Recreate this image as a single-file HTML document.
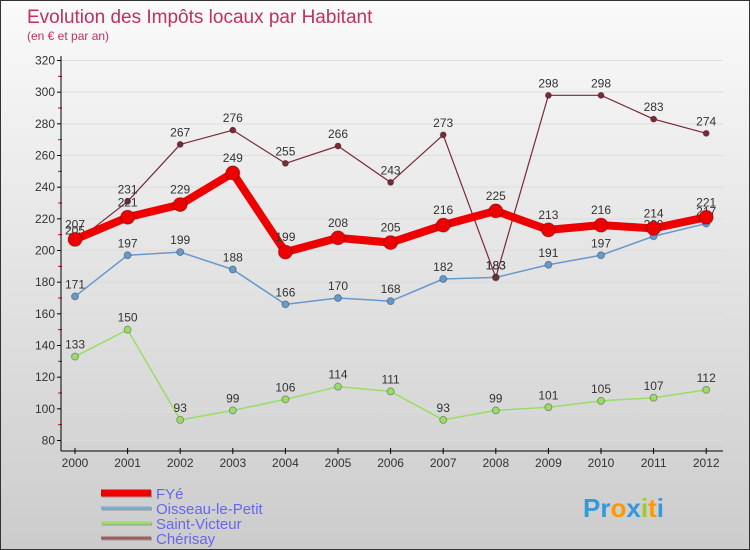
<!DOCTYPE html>
<html><head><meta charset="utf-8"><style>
body{margin:0}
#c{width:748px;height:548px;border:1px solid #333;background:linear-gradient(#fafafa,#cccccc);position:relative;overflow:hidden;font-family:"Liberation Sans","DejaVu Sans",sans-serif}
</style></head><body>
<div id="c">
<svg id="s" width="748" height="548"></svg>
</div>
<script>
const years=["2000","2001","2002","2003","2004","2005","2006","2007","2008","2009","2010","2011","2012"];
const yTicks=[80,100,120,140,160,180,200,220,240,260,280,300,320];
const cherisay=[205,231,267,276,255,266,243,273,183,298,298,283,274];
const fye=[207,221,229,249,199,208,205,216,225,213,216,214,221];
const oisseau=[171,197,199,188,166,170,168,182,183,191,197,209,217];
const victeur=[133,150,93,99,106,114,111,93,99,101,105,107,112];
const NS="http://www.w3.org/2000/svg";
const s=document.getElementById('s');
function el(t,a,p){const e=document.createElementNS(NS,t);for(const k in a)e.setAttribute(k,a[k]);(p||s).appendChild(e);return e;}
const X=i=>74+i*52.6;
const Y=v=>439.5-(v-80)*380/240;
let t=el('text',{x:26,y:22,'font-size':19,fill:'#c03060'});t.textContent='Evolution des Impôts locaux par Habitant';

t=el('text',{x:26,y:39,'font-size':12,fill:'#c03060'});t.textContent='(en € et par an)';

yTicks.forEach(v=>{
 const g=el('line',{x1:60,x2:722,y1:Y(v),y2:Y(v),stroke:'#ddd','stroke-width':1});
 
 el('line',{x1:56,x2:60,y1:Y(v),y2:Y(v),stroke:'#000'});
 if(v<320) el('line',{x1:57,x2:61,y1:Y(v+10),y2:Y(v+10),stroke:'#e00'});
 const tx=el('text',{x:54,y:Y(v)+4,'font-size':12,fill:'#333','text-anchor':'end'});tx.textContent=v;
 
});
let ax=el('line',{x1:60,x2:60,y1:55,y2:450,stroke:'#000'});

ax=el('line',{x1:60,x2:722,y1:450,y2:450,stroke:'#000'});

years.forEach((y,i)=>{
 el('line',{x1:X(i),x2:X(i),y1:447,y2:453,stroke:'#000'});
 const tx=el('text',{x:X(i),y:466,'font-size':12,fill:'#333','text-anchor':'middle'});tx.textContent=y;
 
});
function series(data,color,w,r,name,labelDy){
 const g=el('g',{});
 
 el('polyline',{points:data.map((v,i)=>X(i)+','+Y(v)).join(' '),fill:'none',stroke:color,'stroke-width':w,'stroke-linejoin':'round'},g);
 data.forEach((v,i)=>{
  const c=el('circle',{cx:X(i),cy:Y(v),r:r,fill:color,stroke:'rgba(0,0,0,0.3)'},g);
  
  const tx=el('text',{x:X(i),y:Y(v)-labelDy,'font-size':12,fill:'#333','text-anchor':'middle'},g);tx.textContent=v;
  
 });
}
series(victeur,'#99dd66',1.5,3.5,'saint-victeur',8);
series(oisseau,'#6699cc',1.5,3.5,'oisseau',8);
series(cherisay,'#7a2a35',1.2,3,'cherisay',8);
series(fye,'#ee0000',8,7,'fye',11);
const leg=[['FYé','#ee0000',7],['Oisseau-le-Petit','#7aaed0',3],['Saint-Victeur','#99dd66',3],['Chérisay','#9a6060',3]];
leg.forEach((l,i)=>{
 const y=492+i*15;
 const g=el('g',{});
 el('line',{x1:101,x2:151,y1:y+1,y2:y+1,stroke:'#999','stroke-width':l[2]},g);
 el('line',{x1:100,x2:150,y1:y,y2:y,stroke:l[1],'stroke-width':l[2]},g);
 const tx=el('text',{x:155,y:y+6,'font-size':15,fill:'#6666ee'},g);tx.textContent=l[0];
});
const lg=el('text',{x:582,y:516,'font-size':26,'font-weight':'bold'});

[['P','#3399dd'],['r','#3399dd'],['o','#ff9900'],['x','#3399dd'],['i','#99cc33'],['t','#ff9900'],['i','#3399dd']].forEach(p=>{const ts=el('tspan',{fill:p[1]},lg);ts.textContent=p[0];});
</script>
</body></html>
